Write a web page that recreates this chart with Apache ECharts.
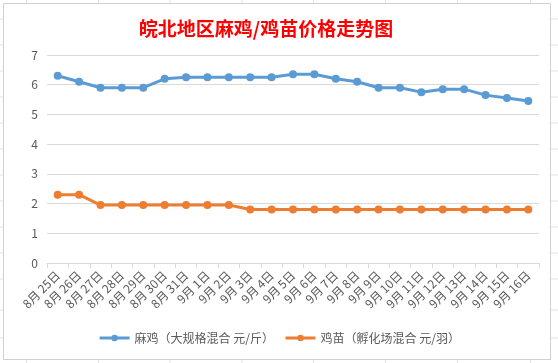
<!DOCTYPE html>
<html>
<head>
<meta charset="utf-8">
<script src="https://cdn.jsdelivr.net/npm/echarts@6/dist/echarts.min.js"></script>
<style>
html,body{margin:0;padding:0;background:#fff;}
#c{width:558px;height:363px;}
</style>
</head>
<body>
<div id="c"></div>
<script>
const titleText = '皖北地区麻鸡/鸡苗价格走势图';
const categories = ['8月 25日','8月 26日','8月 27日','8月 28日','8月 29日','8月 30日','8月 31日',
  '9月 1日','9月 2日','9月 3日','9月 4日','9月 5日','9月 6日','9月 7日','9月 8日','9月 9日',
  '9月 10日','9月 11日','9月 12日','9月 13日','9月 14日','9月 15日','9月 16日'];
const seriesNames = ['麻鸡（大规格混合 元/斤）','鸡苗（孵化场混合 元/羽）'];
const maji = [6.3,6.1,5.9,5.9,5.9,6.2,6.25,6.25,6.25,6.25,6.25,6.35,6.35,6.2,6.1,5.9,5.9,5.75,5.85,5.85,5.65,5.55,5.45];
const jimiao = [2.3,2.3,1.95,1.95,1.95,1.95,1.95,1.95,1.95,1.8,1.8,1.8,1.8,1.8,1.8,1.8,1.8,1.8,1.8,1.8,1.8,1.8,1.8];
const yTicks = [0,1,2,3,4,5,6,7];

const chart = echarts.init(document.getElementById('c'));
const font = '"Noto Sans CJK SC", "Noto Sans", sans-serif';

// spreadsheet background grid (decoration)
const bg = [];
const colXs = [26.5, 98.5, 170, 242, 313.5, 385.5, 457.5, 530.5];
const rowYs = [19, 45, 71, 97, 123, 149, 175, 201, 227, 253, 279, 310, 338];
colXs.forEach(x => bg.push({type:'line', silent:true, z:-10, shape:{x1:x,y1:0,x2:x,y2:363}, style:{stroke:'#E3E3E3', lineWidth:1}}));
rowYs.forEach(y => bg.push({type:'line', silent:true, z:-10, shape:{x1:0,y1:y,x2:558,y2:y}, style:{stroke:'#E3E3E3', lineWidth:1}}));
bg.push({type:'rect', silent:true, z:-5, shape:{x:3.5,y:3.5,width:547,height:356}, style:{fill:'#fff', stroke:'#D0D0D0', lineWidth:1}});

chart.setOption({
  animation:false,
  backgroundColor:'#fff',
  graphic: bg,
  title:{
    text:titleText, left:261, top:14, textAlign:'center',
    textStyle:{color:'#FF0000', fontSize:19, fontWeight:'bold', fontFamily:font}
  },
  legend:{
    bottom:14, left:'center', itemWidth:30, itemHeight:8, itemGap:10,
    lineStyle:{width:3},
    textStyle:{color:'#595959', fontSize:12, fontFamily:font},
    data:seriesNames
  },
  grid:{left:47, right:19, top:55, bottom:100},
  xAxis:{
    type:'category', data:categories, boundaryGap:true,
    axisLine:{lineStyle:{color:'#D9D9D9'}},
    axisTick:{show:true, interval:0, length:5, lineStyle:{color:'#D9D9D9'}},
    axisLabel:{interval:0, rotate:45, color:'#595959', fontSize:12, fontFamily:font, margin:10}
  },
  yAxis:{
    type:'value', min:yTicks[0], max:yTicks[yTicks.length-1], interval:1,
    axisLine:{show:false}, axisTick:{show:false},
    axisLabel:{color:'#595959', fontSize:12, fontFamily:font, margin:9},
    splitLine:{lineStyle:{color:'#D9D9D9'}}
  },
  series:[
    {name:seriesNames[0], type:'line', data:maji, symbol:'circle', symbolSize:8,
     lineStyle:{color:'#5B9BD5', width:3}, itemStyle:{color:'#5B9BD5'}},
    {name:seriesNames[1], type:'line', data:jimiao, symbol:'circle', symbolSize:8,
     lineStyle:{color:'#ED7D31', width:3}, itemStyle:{color:'#ED7D31'}}
  ]
});
</script>
</body>
</html>
